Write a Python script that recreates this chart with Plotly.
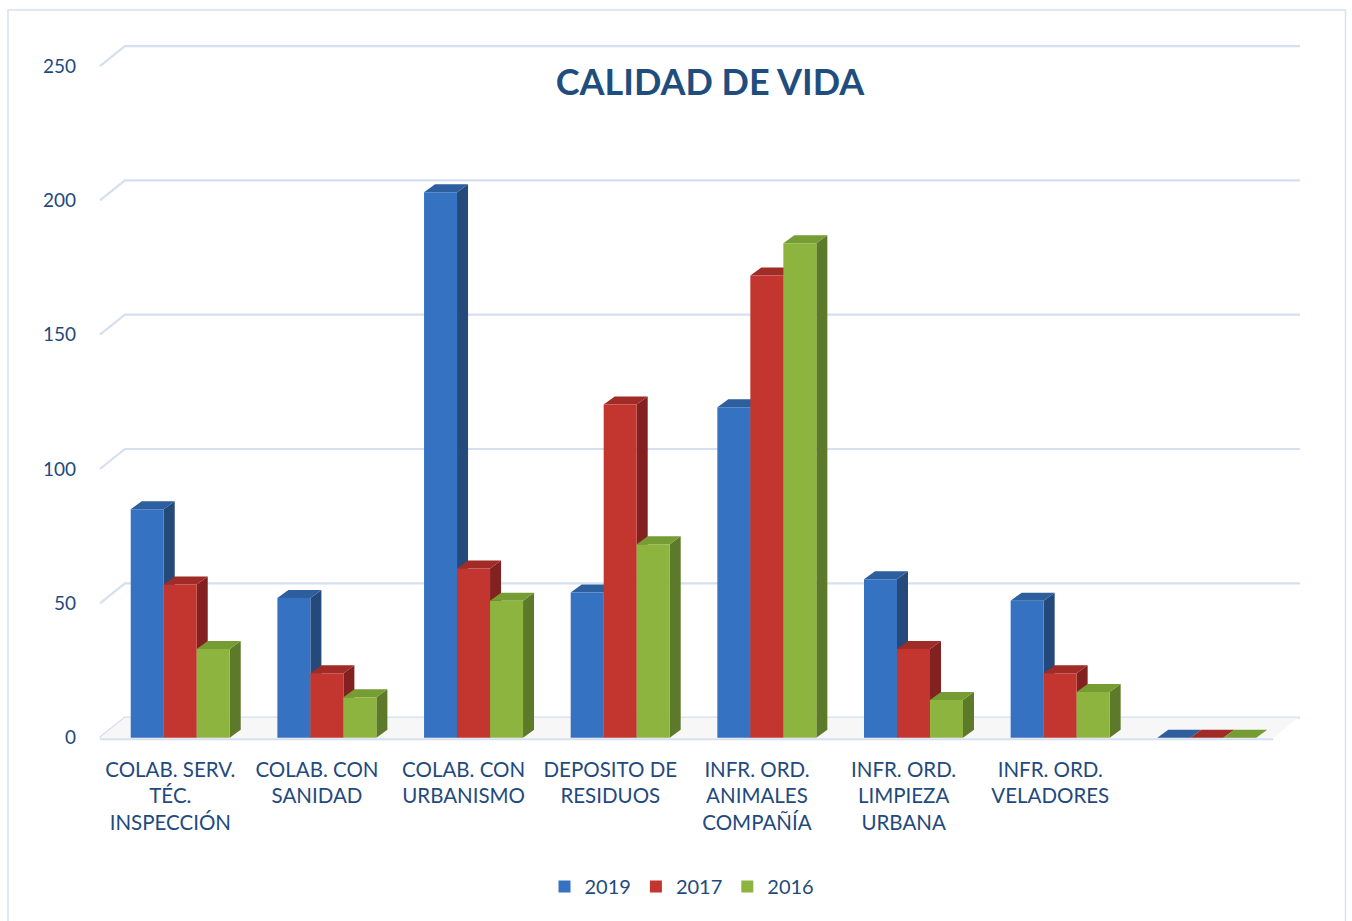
import plotly.graph_objects as go

# ---------------- data ----------------
categories = [
    "COLAB. SERV.<br>TÉC.<br>INSPECCIÓN",
    "COLAB. CON<br>SANIDAD",
    "COLAB. CON<br>URBANISMO",
    "DEPOSITO DE<br>RESIDUOS",
    "INFR. ORD.<br>ANIMALES<br>COMPAÑÍA",
    "INFR. ORD.<br>LIMPIEZA<br>URBANA",
    "INFR. ORD.<br>VELADORES",
    "",
]
series_names = ["2019", "2017", "2016"]
values_2019 = [85, 52, 203, 54, 123, 59, 51, 0]
values_2017 = [57, 24, 63, 124, 172, 33, 24, 0]
values_2016 = [33, 15, 51, 72, 184, 14, 17, 0]
y_ticks = [0, 50, 100, 150, 200, 250]

# ---------------- style / geometry ----------------
W, H = 1352, 921
L, R, T, B = 97, 1300, 40, 743.5
XR = [-0.5, 7.703]
YR = [-2, 259.7]
PX_X = (R - L) / (XR[1] - XR[0])
PX_Y = (B - T) / (YR[1] - YR[0])

bar_w = 33 / PX_X
group_off = -0.27
dx = 11 / PX_X
dy = 8 / PX_Y
wall_dx = 25 / PX_X
wall_dy = 20 / PX_Y

front_cols = ["#3672C2", "#C2362F", "#8DB43E"]
side_cols = ["#24497A", "#82211F", "#5C7A29"]
top_cols = ["#2D5E9D", "#A02B27", "#769C34"]
text_col = "#1F4A7D"
grid_col = "#D5DFEF"
font_fam = "Lato, 'Open Sans', sans-serif"

xs = list(range(len(categories)))
all_vals = [values_2019, values_2017, values_2016]

fig = go.Figure()

# side and top faces (main subplot, drawn under the bar fronts)
for si, vals in enumerate(all_vals):
    off = group_off + si * bar_w
    sx, sy, tx, ty = [], [], [], []
    for xi, v in zip(xs, vals):
        xl = xi + off
        xr = xl + bar_w
        if v > 0:
            sx += [xr, xr, xr + dx, xr + dx, xr, None]
            sy += [0, v, v + dy, dy, 0, None]
        tx += [xl, xr, xr + dx, xl + dx, xl, None]
        ty += [v, v, v + dy, v + dy, v, None]
    fig.add_trace(go.Scatter(x=sx, y=sy, fill="toself", mode="lines",
                             line=dict(width=0), fillcolor=side_cols[si],
                             showlegend=False, hoverinfo="skip",
                             xaxis="x", yaxis="y"))
    fig.add_trace(go.Scatter(x=tx, y=ty, fill="toself", mode="lines",
                             line=dict(width=0), fillcolor=top_cols[si],
                             showlegend=False, hoverinfo="skip",
                             xaxis="x", yaxis="y"))

# bar fronts (overlay subplot, on top)
for si, (name, vals) in enumerate(zip(series_names, all_vals)):
    fig.add_trace(go.Bar(
        x=xs, y=vals, name=name, width=bar_w,
        offset=group_off + si * bar_w,
        marker=dict(color=front_cols[si], line=dict(width=0)),
        xaxis="x2", yaxis="y2",
    ))

# back wall gridlines with perspective segment
shapes = []
for v in y_ticks:
    x0 = XR[0] + 0.02
    shapes.append(dict(
        type="path", xref="x", yref="y", layer="below",
        path=f"M {x0},{v} L {x0 + wall_dx},{v + wall_dy} L {XR[1]},{v + wall_dy}",
        line=dict(color=grid_col, width=2.2),
    ))
# floor
fx0, fx1 = XR[0] + 0.02, 7.52
shapes.append(dict(
    type="path", xref="x", yref="y", layer="below",
    path=f"M {fx0},0 L {fx1},0 L {fx1 + wall_dx},{wall_dy} L {fx0 + wall_dx},{wall_dy} Z",
    fillcolor="#F7F7F7", line=dict(width=0),
))
shapes.append(dict(
    type="line", xref="x", yref="y", layer="below",
    x0=fx0, x1=fx1, y0=-0.6, y1=-0.6,
    line=dict(color=grid_col, width=2.2),
))
# outer chart border
pw, ph = R - L, B - T
def px2paper_x(p):
    return (p - L) / pw
def px2paper_y(p):
    return (B - p) / ph
shapes.append(dict(
    type="rect", xref="paper", yref="paper", layer="below",
    x0=px2paper_x(8), x1=px2paper_x(1345.5),
    y0=px2paper_y(935), y1=px2paper_y(10),
    line=dict(color="#D6E1F2", width=1.5), fillcolor="rgba(0,0,0,0)",
))

fig.update_layout(
    width=W, height=H,
    margin=dict(l=L, r=W - R, t=T, b=H - B, pad=0),
    paper_bgcolor="white", plot_bgcolor="white",
    barmode="overlay",
    shapes=shapes,
    font=dict(family=font_fam, color=text_col, size=19),
    title=dict(text="<b>CALIDAD DE VIDA</b>", x=px2paper_x(710), xref="paper",
               xanchor="center", y=1 - 82 / H, yanchor="middle",
               font=dict(size=36, color="#1F4E7E", family=font_fam)),
    xaxis=dict(range=XR, tickmode="array", tickvals=xs, ticktext=categories,
               showgrid=False, zeroline=False, showline=False, ticks="",
               tickfont=dict(size=20.5, color=text_col), ticklabelstandoff=12,
               fixedrange=True),
    yaxis=dict(range=YR, tickmode="array", tickvals=y_ticks,
               ticktext=[str(v) for v in y_ticks],
               showgrid=False, zeroline=False, showline=False, ticks="",
               tickfont=dict(size=19, color=text_col), ticklabelstandoff=20,
               fixedrange=True),
    xaxis2=dict(range=XR, overlaying="x", matches="x", visible=False),
    yaxis2=dict(range=YR, overlaying="y", matches="y", visible=False),
    legend=dict(orientation="h", x=px2paper_x(682), xanchor="center",
                y=px2paper_y(887), yanchor="middle",
                font=dict(size=20, color=text_col), traceorder="normal",
                itemwidth=30, bgcolor="rgba(0,0,0,0)"),
    showlegend=True,
)

fig.write_html("out.html", config={"displayModeBar": False},
               post_script="document.body.style.margin='0';")
